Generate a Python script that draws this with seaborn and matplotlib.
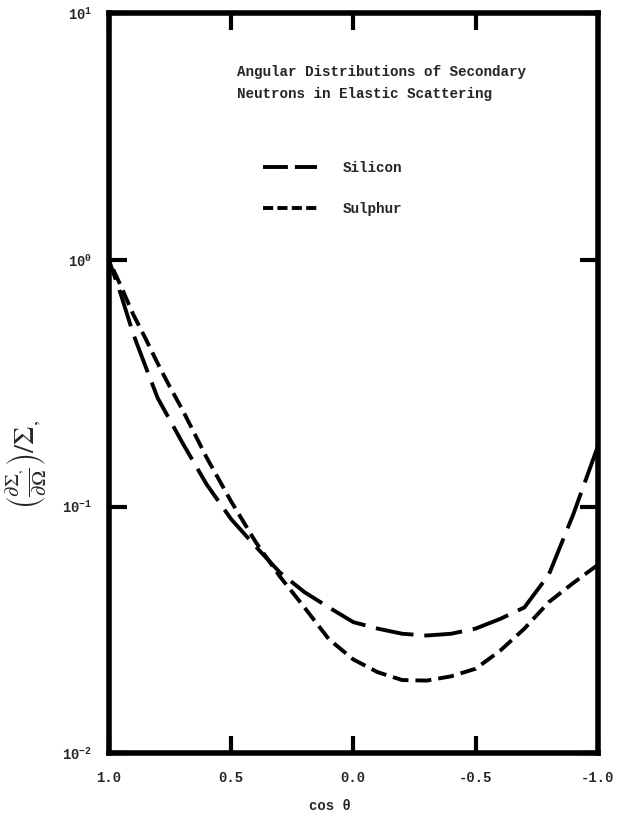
import numpy as np
import pandas as pd
import matplotlib
matplotlib.use('Agg')
import matplotlib.pyplot as plt
import seaborn as sns

# ── DATA ───────────────────────────────────────────────────────
cos_theta = [1.0, 0.95, 0.9, 0.85, 0.8, 0.75, 0.7, 0.6, 0.5, 0.4, 0.3, 0.2, 0.1, 0.0,
             -0.1, -0.2, -0.3, -0.4, -0.5, -0.6, -0.7, -0.8, -0.9, -1.0]
silicon = [1.0, 0.72, 0.50, 0.37, 0.275, 0.224, 0.182, 0.123, 0.089, 0.069, 0.054,
           0.045, 0.039, 0.034, 0.032, 0.0305, 0.030, 0.0305, 0.032, 0.035, 0.039,
           0.053, 0.093, 0.175]
sulphur = [1.0, 0.78, 0.60, 0.48, 0.38, 0.305, 0.248, 0.158, 0.105, 0.072, 0.052,
           0.039, 0.029, 0.024, 0.0213, 0.0198, 0.0197, 0.0205, 0.022, 0.026, 0.032,
           0.041, 0.049, 0.058]
series_names = ['Silicon', 'Sulphur']
x_ticks = [1.0, 0.5, 0.0, -0.5, -1.0]
x_ticklabels = ['1.0', '0.5', '0.0', '-0.5', '-1.0']
y_ticks = [1e-2, 1e-1, 1e0, 1e1]
y_ticklabels = ['10$^{-2}$', '10$^{-1}$', '10$^{0}$', '10$^{1}$']

df = pd.DataFrame({
    'cos': cos_theta * 2,
    'val': silicon + sulphur,
    'mat': [series_names[0]] * len(cos_theta) + [series_names[1]] * len(cos_theta),
})

sns.set_theme(style='ticks')
mono = 'Liberation Mono'
plt.rcParams['font.family'] = [mono, 'DejaVu Sans']
plt.rcParams['mathtext.fontset'] = 'custom'
plt.rcParams['mathtext.rm'] = 'Liberation Mono:bold'
plt.rcParams['mathtext.it'] = 'Liberation Mono:bold'
plt.rcParams['mathtext.bf'] = 'Liberation Mono:bold'

fig = plt.figure(figsize=(6.22, 8.25), dpi=100)
ax = fig.add_axes([0.175, 0.087, 0.786, 0.897])

lw = 2.8
sns.lineplot(data=df, x='cos', y='val', style='mat', color='black', lw=lw,
             dashes={'Silicon': (9.8, 2.8), 'Sulphur': (4.1, 1.8)},
             legend=True, ax=ax)

ax.set_yscale('log')
ax.set_xlim(1.0, -1.0)
ax.set_ylim(1e-2, 1e1)
ax.set_xticks(x_ticks)
ax.set_xticklabels(x_ticklabels, fontsize=10, fontweight='bold')
ax.set_yticks(y_ticks)
ax.set_yticklabels(y_ticklabels, fontsize=10, fontweight='bold')
ax.minorticks_off()
ax.tick_params(axis='x', direction='in', length=12, width=3, pad=13,
               top=True, bottom=True, color='black')
ax.tick_params(axis='y', direction='in', length=13, width=3, pad=12,
               left=True, right=True, color='black')
for s in ax.spines.values():
    s.set_linewidth(4)
    s.set_color('black')

ax.set_xlabel('cos θ', fontsize=10, fontweight='bold')
ax.xaxis.set_label_coords(0.452, -0.062)
ax.set_ylabel(r'$\left(\frac{\partial\mathit{\Sigma}_{,}}{\partial\mathit{\Omega}}\right)/\mathit{\Sigma}_{,}$',
              fontsize=21, fontweight='normal', math_fontfamily='stix')
ax.yaxis.set_label_coords(-0.12, 0.39)

ax.text(0.262, 0.930, 'Angular Distributions of Secondary\nNeutrons in Elastic Scattering',
        transform=ax.transAxes, fontsize=10.3, fontweight='bold',
        va='top', ha='left', linespacing=1.75)

leg = ax.legend(loc='upper left', bbox_to_anchor=(0.288, 0.818), frameon=False,
                handlelength=3.8, handletextpad=1.8, labelspacing=1.87,
                borderaxespad=0.5, prop={'family': mono, 'weight': 'bold', 'size': 10.3})
leg.set_title(None)
# legend samples use shorter dashes than the curves, as in the original
for line, d in zip(leg.get_lines(), [(6.4, 1.8), (2.6, 1.1)]):
    line.set_dashes(d)

plt.savefig('out.png', dpi=100)
